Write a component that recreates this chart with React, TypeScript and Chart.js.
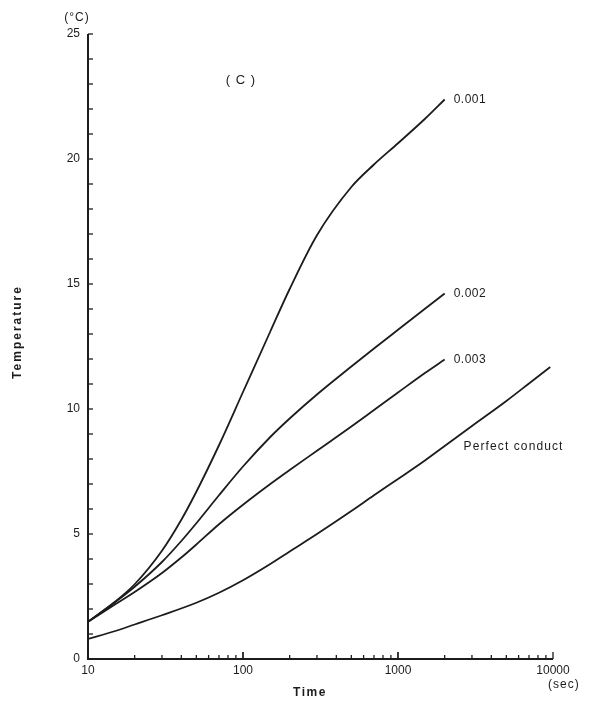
import React, { useEffect, useRef } from "react";
import { Chart, registerables } from "chart.js";

Chart.register(...registerables);

// Time (sec) sample points for the three k-curves
const time = [10, 15, 20, 30, 40, 50, 70, 100, 150, 200, 300, 500, 700, 1000, 1500, 2000];
const k001 = [1.49, 2.3, 2.99, 4.33, 5.57, 6.69, 8.55, 10.68, 13.1, 14.8, 16.95, 18.88, 19.78, 20.63, 21.62, 22.38];
const k002 = [1.49, 2.28, 2.89, 3.88, 4.72, 5.43, 6.55, 7.7, 8.88, 9.62, 10.58, 11.7, 12.42, 13.17, 14.02, 14.62];
const k003 = [1.49, 2.19, 2.68, 3.44, 4.06, 4.58, 5.39, 6.17, 7.0, 7.56, 8.33, 9.3, 9.96, 10.66, 11.45, 11.98];

const timePerfect = [10, 15, 20, 30, 50, 70, 100, 150, 200, 300, 500, 700, 1000, 1500, 2000, 3000, 5000, 7000, 9600];
const perfect = [0.8, 1.12, 1.38, 1.75, 2.25, 2.65, 3.15, 3.8, 4.3, 5.0, 5.92, 6.55, 7.2, 7.95, 8.52, 9.32, 10.32, 11.02, 11.68];

const seriesNames = ["0.001", "0.002", "0.003", "Perfect conduct"];
const perfectLabelAt = { x: 2650, y: 8.5 };
const panelLabel = "( C )";
const panelLabelAt = { x: 97, y: 23.15 };

const yTickLabels = [0, 5, 10, 15, 20, 25];
const xTickLabels = [10, 100, 1000, 10000];

const INK = "#1c1c1c";
const FONT = "'Liberation Sans', Arial, sans-serif";

function pts(xs: number[], ys: number[]) {
  return xs.map((x, i) => ({ x, y: ys[i] }));
}

const decor = {
  id: "decor",
  afterDraw(chart: any) {
    const { ctx, chartArea: a, scales } = chart;
    const xs = scales.x;
    const ys = scales.y;
    ctx.save();
    ctx.strokeStyle = INK;
    ctx.fillStyle = INK;
    ctx.lineCap = "butt";

    // axes
    ctx.lineWidth = 2;
    ctx.beginPath();
    ctx.moveTo(a.left, a.top);
    ctx.lineTo(a.left, a.bottom);
    ctx.lineTo(a.right, a.bottom);
    ctx.stroke();

    // y minor ticks (every 1), inward
    ctx.lineWidth = 1.3;
    for (let v = 0; v <= 25; v++) {
      const py = ys.getPixelForValue(v);
      ctx.beginPath();
      ctx.moveTo(a.left, py);
      ctx.lineTo(a.left + 5, py);
      ctx.stroke();
    }
    // x ticks (log), inward
    for (let dec = 10; dec < 10000; dec *= 10) {
      for (let m = 1; m <= 10; m++) {
        const v = dec * m;
        const px = xs.getPixelForValue(v);
        const major = m === 1 || m === 10;
        ctx.beginPath();
        ctx.moveTo(px, a.bottom);
        ctx.lineTo(px, a.bottom - (major ? 7 : 4));
        ctx.stroke();
      }
    }

    // tick labels
    ctx.font = `12px ${FONT}`;
    ctx.textAlign = "right";
    ctx.textBaseline = "middle";
    yTickLabels.forEach((v) => {
      ctx.fillText(String(v), a.left - 8, ys.getPixelForValue(v));
    });
    ctx.textAlign = "center";
    xTickLabels.forEach((v) => {
      ctx.fillText(String(v), xs.getPixelForValue(v), a.bottom + 12);
    });

    // units
    (ctx as any).letterSpacing = "1px";
    ctx.textAlign = "left";
    ctx.fillText("(sec)", xs.getPixelForValue(10000) - 5, a.bottom + 26);
    ctx.textAlign = "center";
    ctx.fillText("(°C)", a.left - 11, a.top - 16);

    // axis titles
    ctx.font = `bold 12px ${FONT}`;
    (ctx as any).letterSpacing = "1.5px";
    ctx.fillText("Time", a.left + 222, a.bottom + 34);
    ctx.save();
    ctx.translate(18, a.top + 298);
    ctx.rotate(-Math.PI / 2);
    (ctx as any).letterSpacing = "2px";
    ctx.fillText("Temperature", 0, 0);
    ctx.restore();

    // series labels
    ctx.font = `12px ${FONT}`;
    (ctx as any).letterSpacing = "0.5px";
    ctx.textAlign = "left";
    const ends = [k001, k002, k003];
    ends.forEach((arr, i) => {
      const px = xs.getPixelForValue(time[time.length - 1]);
      const py = ys.getPixelForValue(arr[arr.length - 1]);
      ctx.fillText(seriesNames[i], px + 9, py);
    });
    (ctx as any).letterSpacing = "1.1px";
    ctx.fillText(seriesNames[3], xs.getPixelForValue(perfectLabelAt.x), ys.getPixelForValue(perfectLabelAt.y));

    // panel label
    ctx.font = `13px ${FONT}`;
    (ctx as any).letterSpacing = "1px";
    ctx.textAlign = "center";
    ctx.fillText(panelLabel, xs.getPixelForValue(panelLabelAt.x), ys.getPixelForValue(panelLabelAt.y));

    ctx.restore();
  },
};

export default function App() {
  const ref = useRef<HTMLCanvasElement | null>(null);
  useEffect(() => {
    if (!ref.current) return;
    const line = (data: { x: number; y: number }[]) => ({
      data,
      borderColor: INK,
      borderWidth: 1.8,
      pointRadius: 0,
      fill: false,
      tension: 0.4,
      cubicInterpolationMode: "monotone" as const,
    });
    const chart = new Chart(ref.current, {
      type: "line",
      data: {
        datasets: [
          { label: seriesNames[0], ...line(pts(time, k001)) },
          { label: seriesNames[1], ...line(pts(time, k002)) },
          { label: seriesNames[2], ...line(pts(time, k003)) },
          { label: seriesNames[3], ...line(pts(timePerfect, perfect)) },
        ],
      },
      options: {
        responsive: false,
        animation: false,
        devicePixelRatio: 1,
        layout: { padding: { left: 88, right: 42, top: 34, bottom: 47 } },
        plugins: { legend: { display: false }, tooltip: { enabled: false } },
        scales: {
          x: { type: "logarithmic", min: 10, max: 10000, display: false },
          y: { type: "linear", min: 0, max: 25, display: false },
        },
      },
      plugins: [decor],
    });
    return () => chart.destroy();
  }, []);
  return (
    <div style={{ position: "absolute", left: 0, top: 0, width: 595, height: 706, background: "#fff" }}>
      <canvas ref={ref} width={595} height={706} style={{ display: "block", width: 595, height: 706 }} />
    </div>
  );
}
